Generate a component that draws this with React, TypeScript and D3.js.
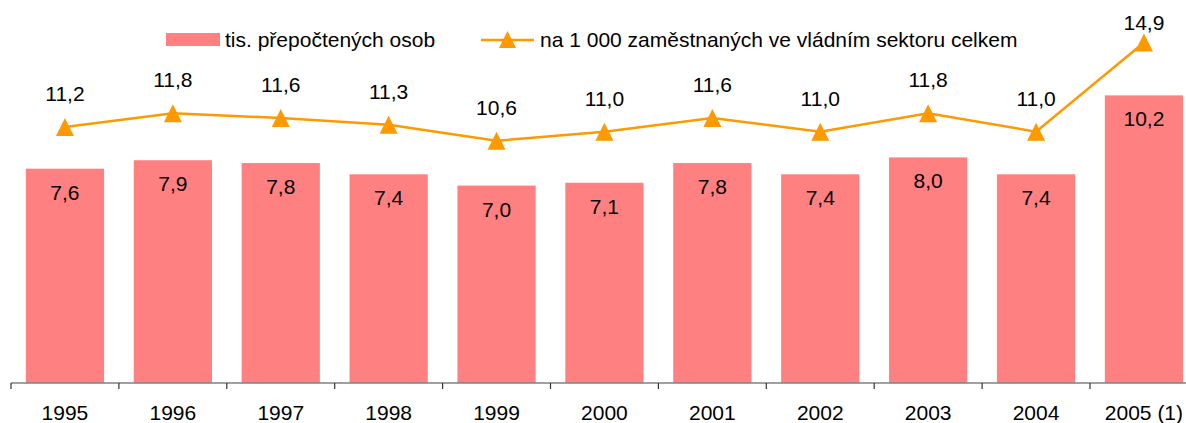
import React from "react";
import * as d3 from "d3";

const categories = ["1995", "1996", "1997", "1998", "1999", "2000", "2001", "2002", "2003", "2004", "2005 (1)"];
const barValues = [7.6, 7.9, 7.8, 7.4, 7.0, 7.1, 7.8, 7.4, 8.0, 7.4, 10.2];
const lineValues = [11.2, 11.8, 11.6, 11.3, 10.6, 11.0, 11.6, 11.0, 11.8, 11.0, 14.9];
const barLegend = "tis. přepočtených osob";
const lineLegend = "na 1 000 zaměstnaných ve vládním sektoru celkem";

const fmt = (v: number) => v.toFixed(1).replace(".", ",");

export default function App() {
  const W = 1186, H = 423;
  const baseY = 383;
  const x = d3.scaleBand<string>().domain(categories).range([11, 11 + 11 * 107.9]).padding(0);
  const yBar = d3.scaleLinear().domain([0, 12]).range([baseY, baseY - 12 * 28.2]);
  const yLine = d3.scaleLinear().domain([0, 16]).range([baseY, baseY - 16 * 22.85]);
  const bw = x.bandwidth();
  const barW = bw * 0.725;
  const font = "'Liberation Sans', Arial, sans-serif";
  const fs = 21;
  const orange = "#FF9900";
  const pink = "#FF8080";
  const tri = (cx: number, cy: number, s = 18) =>
    `M${cx},${cy - s / 2}L${cx + s / 2},${cy + s / 2}L${cx - s / 2},${cy + s / 2}Z`;
  const cx = (c: string) => (x(c) as number) + bw / 2;
  const linePath = d3
    .line<number>()
    .x((_, i) => cx(categories[i]))
    .y((v) => yLine(v))(lineValues) as string;
  const ticks = categories.map((c) => x(c) as number).concat([(x(categories[10]) as number) + bw]);

  return (
    <svg width={W} height={H} style={{ position: "absolute", left: 0, top: 0 }} fontFamily={font}>
      <rect width={W} height={H} fill="#fff" />
      {/* legend */}
      <rect x={166} y={33} width={54} height={13} fill={pink} />
      <text x={225} y={47} fontSize={fs} fill="#000">{barLegend}</text>
      <line x1={481} x2={534} y1={40} y2={40} stroke={orange} strokeWidth={2.5} />
      <path d={tri(507.5, 39.5, 17)} fill={orange} />
      <text x={540} y={47} fontSize={fs} fill="#000">{lineLegend}</text>
      {/* bars */}
      {categories.map((c, i) => (
        <g key={c}>
          <rect
            x={(x(c) as number) + (bw - barW) / 2}
            y={yBar(barValues[i])}
            width={barW}
            height={baseY - yBar(barValues[i])}
            fill={pink}
          />
          <text x={cx(c)} y={yBar(barValues[i]) + 31} fontSize={fs} textAnchor="middle" fill="#000">
            {fmt(barValues[i])}
          </text>
        </g>
      ))}
      {/* axis */}
      <line x1={11} x2={W} y1={baseY} y2={baseY} stroke="#808080" strokeWidth={1.5} />
      {ticks.map((t, i) => (
        <line key={i} x1={t} x2={t} y1={baseY} y2={baseY + 6} stroke="#333" strokeWidth={1.2} />
      ))}
      {categories.map((c) => (
        <text key={c} x={cx(c)} y={420} fontSize={fs} textAnchor="middle" fill="#000">{c}</text>
      ))}
      {/* line */}
      <path d={linePath} fill="none" stroke={orange} strokeWidth={2.5} />
      {categories.map((c, i) => (
        <g key={c}>
          <path d={tri(cx(c), yLine(lineValues[i]))} fill={orange} />
          <text
            x={cx(c)}
            y={Math.max(yLine(lineValues[i]) - 26, 30)}
            fontSize={fs}
            textAnchor="middle"
            fill="#000"
          >
            {fmt(lineValues[i])}
          </text>
        </g>
      ))}
    </svg>
  );
}
